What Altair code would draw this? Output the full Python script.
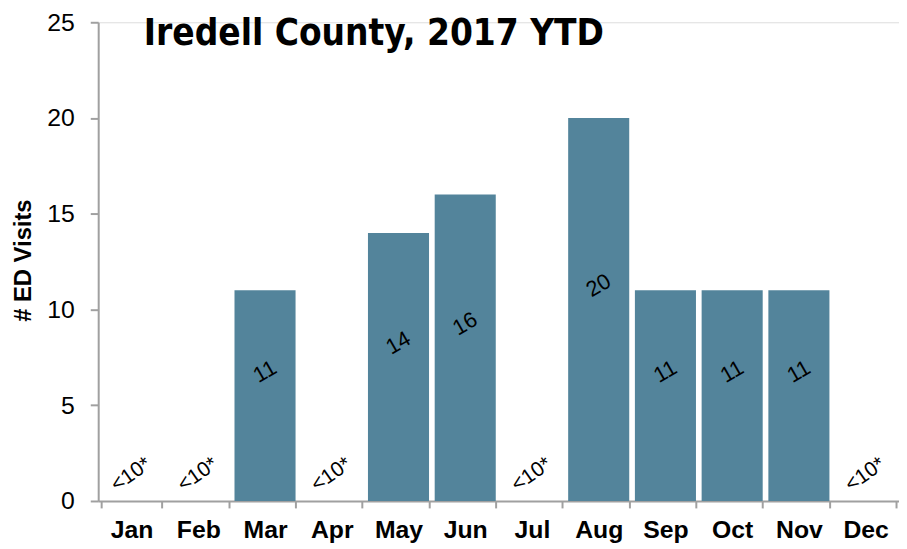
import altair as alt
import pandas as pd

months = ["Jan", "Feb", "Mar", "Apr", "May", "Jun", "Jul", "Aug", "Sep", "Oct", "Nov", "Dec"]
visits = [None, None, 11, None, 14, 16, None, 20, 11, 11, 11, None]
suppressed_label = "<10*"
chart_title = "Iredell County, 2017 YTD"

df = pd.DataFrame({
    "month": months,
    "value": [v if v is not None else 0 for v in visits],
    "suppressed": [v is None for v in visits],
    "label": [str(v) if v is not None else suppressed_label for v in visits],
})
title_df = pd.DataFrame({"title": [chart_title]})

BAR = "#53849B"
AXIS = "#a0a0a0"
FONT = "Liberation Sans"

x_enc = alt.X(
    "month:N",
    sort=months,
    scale=alt.Scale(paddingInner=0.085, paddingOuter=0.0425),
    axis=alt.Axis(
        title=None, labelAngle=0, labelFont=FONT, labelFontSize=25, labelFontWeight="bold",
        labelColor="black", labelPadding=10, tickBand="extent", tickSize=7, tickColor=AXIS,
        tickWidth=2, domainColor=AXIS, domainWidth=2,
    ),
)
x_txt = alt.X("month:N", sort=months, bandPosition=0.5)
y_scale = alt.Scale(domain=[0, 25], nice=False)

base = alt.Chart(df)

bars = base.mark_bar(color=BAR).encode(
    x=x_enc,
    y=alt.Y(
        "value:Q",
        scale=y_scale,
        axis=alt.Axis(
            title="# ED Visits", values=[0, 5, 10, 15, 20, 25], grid=False,
            labelFont=FONT, labelFontSize=25, labelColor="black", labelPadding=16,
            tickSize=8, tickColor=AXIS, tickWidth=2, domainColor=AXIS, domainWidth=2,
            titleFont=FONT, titleFontSize=24, titleFontWeight="bold", titleColor="black",
            titleX=-68, titleY=240, titleAngle=270, titleBaseline="alphabetic", titleAlign="center",
        ),
    ),
)

# dx/dy are applied in the rotated text frame; these pairs give a straight upward shift
value_labels = base.transform_filter("!datum.suppressed").transform_calculate(
    mid="datum.value / 2"
).mark_text(
    angle=330, font=FONT, fontSize=22, color="black", dx=12, dy=-21,
    align="center", baseline="middle"
).encode(
    x=x_txt,
    y=alt.Y("mid:Q", scale=y_scale),
    text="label:N",
)

small_labels = base.transform_filter("datum.suppressed").mark_text(
    angle=325, font=FONT, fontSize=21, color="black", dx=15, dy=-22,
    align="center", baseline="middle"
).encode(
    x=x_txt,
    y=alt.Y("value:Q", scale=y_scale),
    text="label:N",
)

title_mark = alt.Chart(title_df).mark_text(
    font="DejaVu Sans Condensed",
    fontSize=37, fontWeight="bold", color="black", align="left", baseline="alphabetic",
).encode(
    x=alt.value(46), y=alt.value(23), text="title:N",
)

chart = alt.layer(bars, value_labels, small_labels, title_mark).properties(
    width=808,
    height=483,
    autosize=alt.AutoSizeParams(type="none"),
    padding={"left": 91, "top": 12, "right": 0, "bottom": 40},
).configure_view(stroke=None).configure(background="white")

chart.save("out.html", embed_options={"renderer": "svg", "actions": False})
